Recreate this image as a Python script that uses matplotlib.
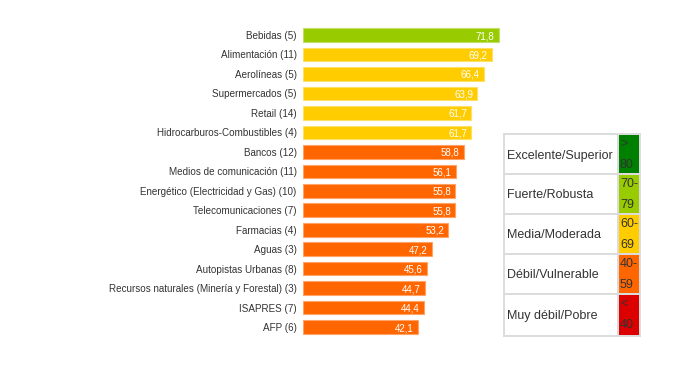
import matplotlib.pyplot as plt
from matplotlib.patches import Rectangle

plt.rcParams['font.family'] = ['Liberation Sans', 'DejaVu Sans']

categories = ["Bebidas (5)", "Alimentación (11)", "Aerolíneas (5)", "Supermercados (5)",
              "Retail (14)", "Hidrocarburos-Combustibles (4)", "Bancos (12)",
              "Medios de comunicación (11)", "Energético (Electricidad y Gas) (10)",
              "Telecomunicaciones (7)", "Farmacias (4)", "Aguas (3)",
              "Autopistas Urbanas (8)", "Recursos naturales (Minería y Forestal) (3)",
              "ISAPRES (7)", "AFP (6)"]
values = [71.8, 69.2, 66.4, 63.9, 61.7, 61.7, 58.8, 56.1, 55.8, 55.8, 53.2, 47.2,
          45.6, 44.7, 44.4, 42.1]
value_labels = ["71,8", "69,2", "66,4", "63,9", "61,7", "61,7", "58,8", "56,1", "55,8",
                "55,8", "53,2", "47,2", "45,6", "44,7", "44,4", "42,1"]

legend_names = ["Excelente/Superior", "Fuerte/Robusta", "Media/Moderada",
                "Débil/Vulnerable", "Muy débil/Pobre"]
legend_ranges = [">\n80", "70-\n79", "60-\n69", "40-\n59", "<\n40"]
legend_colors = ["#008000", "#99cc00", "#ffcc00", "#ff6600", "#dd0000"]


def bar_color(v):
    if v >= 70:
        return "#99cc00"
    if v >= 60:
        return "#ffcc00"
    return "#ff6600"


def edge_color(v):
    if v >= 70:
        return "#c2e066"
    if v >= 60:
        return "#ffe066"
    return "#ffa366"


W, H = 700, 367
fig = plt.figure(figsize=(7, 3.67), dpi=100)

# bar area in pixel terms
left, width = 303, 273
top, bottom = 25.3, 336.8
ax = fig.add_axes([left / W, 1 - bottom / H, width / W, (bottom - top) / H])
ax.set_xlim(0, 100)
ax.set_ylim(len(categories) - 0.5, -0.5)
ax.axis("off")

ys = list(range(len(categories)))
ax.barh(ys, values, height=0.7, color=[bar_color(v) for v in values],
        edgecolor=[edge_color(v) for v in values], linewidth=0.8)
for y, v, lab in zip(ys, values, value_labels):
    ax.text(v - 1.6, y + 0.05, lab, color="white", fontsize=7, ha="right", va="center")
    ax.text(-2.3, y + 0.05, categories[y], color="#333333", fontsize=7.15, ha="right",
            va="center")

# legend table
def fx(x):
    return x / W


def fy(y):
    return 1 - y / H


fig.patches.append(Rectangle((fx(503), fy(337)), fx(641) - fx(503), fy(133) - fy(337),
                             transform=fig.transFigure, facecolor="#dcdcdc", edgecolor="none"))
row_edges = [135, 175, 215, 255, 295, 337]
for i in range(5):
    y0, y1 = row_edges[i], row_edges[i + 1] - 2
    fig.patches.append(Rectangle((fx(505), fy(y1)), fx(617) - fx(505), fy(y0) - fy(y1),
                                 transform=fig.transFigure, facecolor="white", edgecolor="none"))
    fig.patches.append(Rectangle((fx(618.5), fy(y1)), fx(639) - fx(618.5), fy(y0) - fy(y1),
                                 transform=fig.transFigure, facecolor=legend_colors[i],
                                 edgecolor="none"))
    fig.text(fx(507), fy((y0 + y1) / 2 + 1.5), legend_names[i], fontsize=9, color="#333333",
             ha="left", va="center")
    line1, line2 = legend_ranges[i].split("\n")
    fig.text(fx(620), fy(y0 + 9), line1, fontsize=9, color="#333333", ha="left", va="center")
    fig.text(fx(620), fy(y0 + 30), line2, fontsize=9, color="#333333", ha="left", va="center")

fig.savefig("out.png", dpi=100, facecolor="white")
